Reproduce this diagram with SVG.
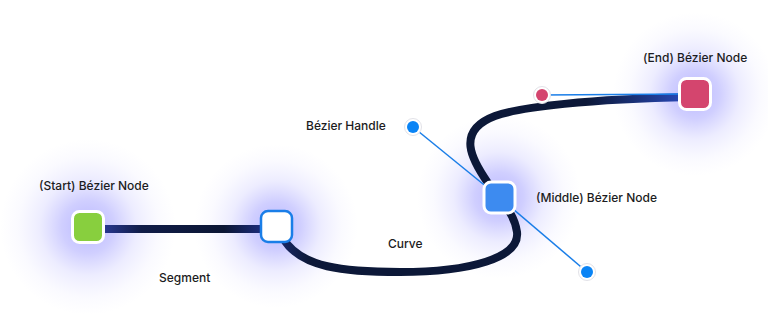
<svg xmlns="http://www.w3.org/2000/svg" width="768" height="318" viewBox="0 0 768 318">
<defs>
<radialGradient id="glow">
<stop offset="0" stop-color="#5a55ff" stop-opacity="0.42"/>
<stop offset="0.3" stop-color="#625eff" stop-opacity="0.3"/>
<stop offset="0.55" stop-color="#7470ff" stop-opacity="0.13"/>
<stop offset="0.8" stop-color="#8a86ff" stop-opacity="0.04"/>
<stop offset="1" stop-color="#9a95ff" stop-opacity="0"/>
</radialGradient>
<linearGradient id="segGrad" gradientUnits="userSpaceOnUse" x1="100" y1="0" x2="265" y2="0">
<stop offset="0" stop-color="#2a3a98"/>
<stop offset="0.25" stop-color="#101c48"/>
<stop offset="0.75" stop-color="#0b1634"/>
<stop offset="1" stop-color="#1e2e80"/>
</linearGradient>
<linearGradient id="curveGrad" gradientUnits="userSpaceOnUse" x1="276" y1="0" x2="690" y2="0">
<stop offset="0" stop-color="#1a2a6e"/>
<stop offset="0.08" stop-color="#0c1838"/>
<stop offset="0.75" stop-color="#0c1838"/>
<stop offset="1" stop-color="#2a4cc0"/>
</linearGradient>
</defs>
<style>
.label{font-family:Inter,"Liberation Sans",sans-serif;font-size:12px;font-weight:500;fill:#1c1c22}
.node{stroke:#ffffff;stroke-width:3}
.hline{stroke:#1a7ee8;stroke-width:1.5;fill:none}
.hring{fill:#ffffff;stroke:#e2e2e8;stroke-width:1}
</style>
<g id="glows">
<circle cx="88" cy="227" r="88" fill="url(#glow)"/>
<circle cx="276" cy="226" r="82" fill="url(#glow)"/>
<circle cx="499" cy="197" r="82" fill="url(#glow)"/>
<circle cx="695" cy="94" r="82" fill="url(#glow)"/>
</g>
<g id="connectors">
<line id="segment" x1="100" y1="229" x2="265" y2="229" stroke="url(#segGrad)" stroke-width="8"/>
<path id="curve" d="M 283 238 C 300 268, 345 272, 400 272 C 470 272, 520 258, 517 232 C 514 210, 498 200, 488 183 C 472 160, 455 131, 495 116 C 520 107, 590 99, 690 97" fill="none" stroke="url(#curveGrad)" stroke-width="8" stroke-linecap="round"/>
<line class="hline" x1="413" y1="127" x2="499" y2="197"/>
<line class="hline" x1="499" y1="197" x2="587" y2="272"/>
<line class="hline" x1="542" y1="95" x2="690" y2="94"/>
</g>
<g id="start-node">
<rect class="node" x="72.5" y="211.5" width="31" height="31" rx="7" fill="#88cf3e"/>
<text class="label" x="39" y="190">(Start) Bézier Node</text>
</g>
<g id="segment-node">
<rect x="261" y="211" width="31" height="31" rx="7" fill="#ffffff" stroke="#1a7ee8" stroke-width="2.5"/>
</g>
<g id="middle-node">
<rect class="node" x="484" y="182" width="31" height="31" rx="7" fill="#3d8bf0"/>
<text class="label" x="536" y="202">(Middle) Bézier Node</text>
</g>
<g id="end-node">
<rect class="node" x="679.5" y="78.5" width="31" height="31" rx="7" fill="#d4456e"/>
<text class="label" x="643" y="62">(End) Bézier Node</text>
</g>
<g id="handle-top">
<circle class="hring" cx="413" cy="127" r="8.5"/>
<circle cx="413" cy="127" r="6" fill="#0a84f5"/>
<text class="label" x="306" y="130">Bézier Handle</text>
</g>
<g id="handle-bottom">
<circle class="hring" cx="587" cy="272" r="8.5"/>
<circle cx="587" cy="272" r="6" fill="#0a84f5"/>
</g>
<g id="handle-end">
<circle class="hring" cx="542" cy="95" r="8.5"/>
<circle cx="542" cy="95" r="6" fill="#d4456e"/>
</g>
<text class="label" x="159" y="282">Segment</text>
<text class="label" x="388" y="248">Curve</text>
</svg>
